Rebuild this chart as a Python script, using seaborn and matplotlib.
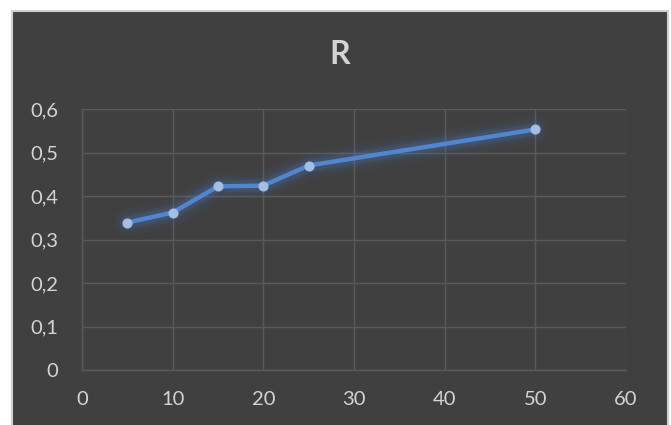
import matplotlib
matplotlib.use("Agg")
import matplotlib.pyplot as plt
from matplotlib.patches import Rectangle
from matplotlib.ticker import FuncFormatter
import seaborn as sns
import pandas as pd

# Series data
x_values = [5, 10, 15, 20, 25, 50]
r_values = [0.339, 0.362, 0.422, 0.424, 0.470, 0.553]
x_ticks = [0, 10, 20, 30, 40, 50, 60]
y_ticks = [0, 0.1, 0.2, 0.3, 0.4, 0.5, 0.6]
title_text = "R"

df = pd.DataFrame({"x": x_values, "R": r_values})

sns.set_theme(style="dark")
plt.rcParams["font.family"] = ["Lato", "DejaVu Sans"]

BG = "#404040"
GRID = "#5a5a5a"
TEXT = "#d4d4d4"
LINE = "#4f86d2"
MARK = "#a3bfe6"

fig = plt.figure(figsize=(6.71, 4.25), dpi=100, facecolor="white")
# chart area panel with light frame, drawn behind the axes
panel = Rectangle((12 / 671, -0.01), 656 / 671, 1 - 11 / 425 + 0.01,
                  transform=fig.transFigure, facecolor=BG,
                  edgecolor="#d0d0d0", linewidth=1.5, zorder=-10)
fig.patches.append(panel)

ax = fig.add_axes([82 / 671, 1 - 370 / 425, (626 - 82) / 671, (370 - 109) / 425])
ax.set_facecolor(BG)

# soft glow under the line
for lw, a in [(20, 0.04), (15, 0.06), (11, 0.08), (8, 0.12)]:
    sns.lineplot(data=df, x="x", y="R", ax=ax, color=LINE, linewidth=lw,
                 alpha=a, solid_capstyle="round", solid_joinstyle="round",
                 legend=False)
sns.lineplot(data=df, x="x", y="R", ax=ax, color=LINE, linewidth=3.2,
             marker="o", markersize=6.5, markerfacecolor=MARK,
             markeredgecolor=MARK, legend=False,
             solid_joinstyle="round", solid_capstyle="round")

ax.set_xlim(0, 60)
ax.set_ylim(0, 0.6)
ax.set_xticks(x_ticks)
ax.set_yticks(y_ticks)
ax.xaxis.set_major_formatter(FuncFormatter(lambda v, p: f"{v:g}"))
ax.yaxis.set_major_formatter(FuncFormatter(lambda v, p: f"{v:g}".replace(".", ",")))
ax.tick_params(axis="both", length=0, labelsize=14.5, colors=TEXT)
ax.tick_params(axis="y", pad=17)
ax.tick_params(axis="x", pad=15)
ax.grid(True, color=GRID, linewidth=1)
for side, sp in ax.spines.items():
    if side in ("left", "bottom"):
        sp.set_visible(True)
        sp.set_color(GRID)
        sp.set_linewidth(1)
    else:
        sp.set_visible(False)
ax.set_xlabel("")
ax.set_ylabel("")

fig.text(340 / 671, 1 - 55 / 425, title_text, ha="center", va="center",
         fontsize=23, fontweight="bold", color=TEXT)

fig.savefig("out.png", dpi=100, facecolor="white")
